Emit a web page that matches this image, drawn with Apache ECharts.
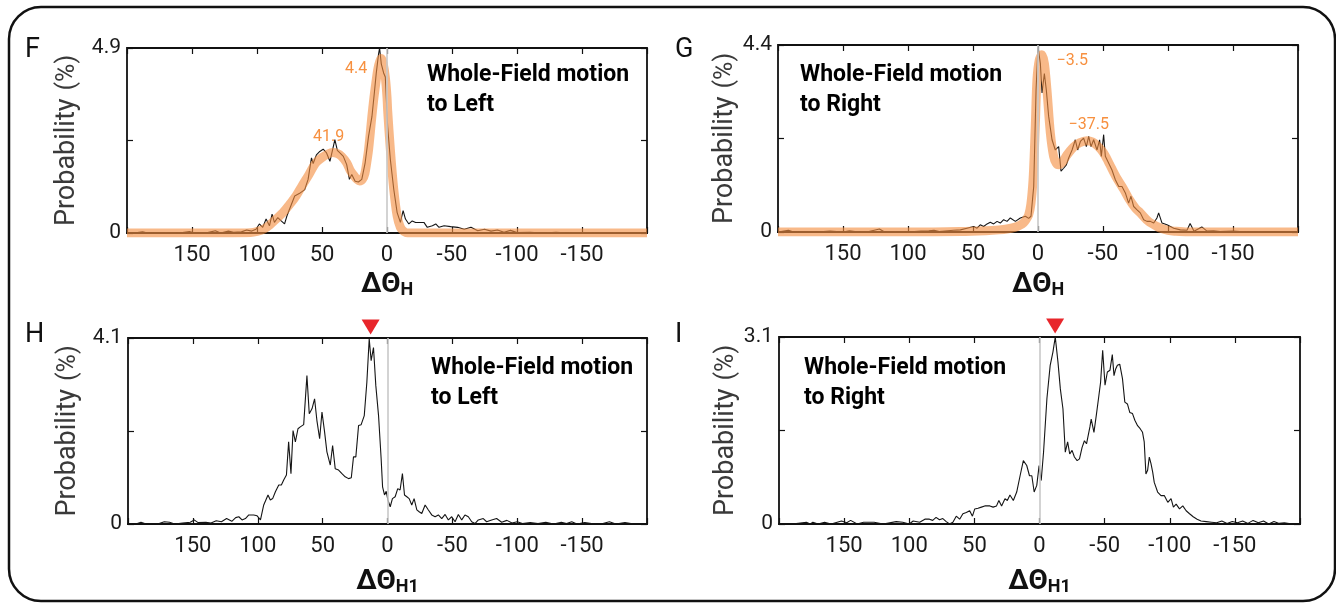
<!DOCTYPE html>
<html>
<head>
<meta charset="utf-8">
<title>Whole-Field motion — ΔΘ distributions</title>
<script src="https://cdn.jsdelivr.net/npm/echarts@6/dist/echarts.min.js"></script>
<style>
  html, body { margin: 0; padding: 0; background: #fff; }
  #main { width: 1336px; height: 605px; }
</style>
</head>
<body>
<div id="main"></div>
<script>
// ---- data: [ΔΘ (deg), probability (%)] ----
// F: whole-field motion to left, ΔΘH
const fRaw = [[200,0],[192,0.01],[188,0.03],[184,0],[170,0.01],[160,0],[152,0.04],[148,0],[138,0.01],[132,0.06],[128,0],[122,0.05],[118,0.02],[112,0.03],[108,0.08],[104,0.05],
  [100.8,0.10],[98.2,0.24],[95.6,0.15],[93,0.37],[90.4,0.19],[88.4,0.50],[86.6,0.28],[84,0.41],[81.4,0.32],[78.8,0.24],[77,0.45],[75,0.63],[71,0.98],[67.2,1.05],[63.3,1.15],[60.7,1.42],[58.1,1.99],[56.8,1.84],[54.3,2.07],[51.7,2.16],[49.1,2.22],[46.5,2.12],[43.9,1.90],[41.3,2.29],[40.1,2.47],[38.2,2.19],[36.2,2.12],[33.6,2.03],[31,1.81],[28.9,1.42],[27.1,1.55],[24.5,1.37],[22,1.35],[19.4,1.42],[16.8,1.86],[14.2,2.56],[11.6,3.08],[9.8,3.69],[8.3,4.22],[6.5,4.74],[5.7,4.9],[4.4,4.48],[2.6,4.24],[1.3,4.13],
  [-0.5,2.82],[-2.6,1.94],[-5.2,1.16],[-7.8,0.54],[-10.3,0.28],[-12.4,0.59],[-14.2,0.37],[-16.8,0.24],[-19.4,0.32],[-22,0.28],[-24.5,0.28],[-28.4,0.28],[-31,0.15],[-34.9,0.19],[-37.5,0.24],[-40,0.15],[-43.9,0.19],[-49,0.17],[-54.3,0.15],[-59.4,0.10],[-64.6,0.15],[-69.8,0.06],[-75,0.10],
  [-80,0.05],[-85,0.08],[-90,0.02],[-95,0.07],[-100,0.01],[-110,0.02],[-120,0],[-130,0.02],[-140,0],[-150,0.01],[-160,0],[-175,0.01],[-190,0],[-200,0]]
const fFit = [[200,0],[120,0],[105,0.01],[100,0.04],[95,0.1],[90,0.22],[85,0.38],[80,0.54],[75,0.75],[70,0.98],[65,1.27],[60,1.55],[55,1.85],[50,2.0],[45,2.1],[41.9,2.13],[38,2.1],[35,2.03],[31,1.86],[28,1.64],[25,1.5],[23,1.42],[21,1.38],[19,1.42],[17,1.58],[15,2.0],[14.2,2.2],[13,2.6],[11.6,3.1],[10,3.6],[8.3,4.05],[7,4.35],[5.5,4.55],[4.4,4.62],[3,4.5],[1.3,4.13],[0,3.6],[-0.5,3.25],[-2.6,2.2],[-5.2,1.15],[-7.8,0.45],[-10.3,0.15],[-13,0.04],[-16,0],[-200,0]]
const fPeaks = [[41.9, 2.13], [4.4, 4.62]]

// G: whole-field motion to right, ΔΘH
const gRaw = [[200,0],[192,0.04],[188,0],[176,0.01],[170,0],[160,0.02],[150,0],[145,0.03],[138,0],[130,0.01],[122,0.07],[118,0],[110,0.01],[100,0],[90,0.02],[84,0.03],[80,0.04],[76,0.01],
  [64.9,0.04],[59.7,0.05],[54.6,0.09],[49.5,0.13],[46.9,0.09],[44.4,0.17],[41.8,0.13],[39.2,0.19],[36.7,0.23],[34.1,0.19],[31.5,0.25],[29,0.21],[26.4,0.29],[23.8,0.25],[21.3,0.33],[17.4,0.25],[13.6,0.33],[9.7,0.37],[7.2,0.32],[5.4,0.37],[3.3,1.07],[1.5,3.34],[0,4.36],
  [-1.8,3.97],[-3.1,3.27],[-4.9,3.73],[-6.4,3.34],[-8.2,2.72],[-10.8,2.17],[-13.3,1.93],[-15.9,2.01],[-17.7,1.43],[-19.7,1.50],[-21.8,1.58],[-23.6,1.74],[-26.2,1.93],[-28.7,2.17],[-30.5,1.93],[-32.6,2.13],[-35.1,2.21],[-37.2,2.01],[-39,2.25],[-40.8,2.01],[-42.8,2.17],[-45.4,1.93],[-47.4,2.17],[-48.7,1.78],[-50.5,2.29],[-51.8,1.78],[-54.4,1.62],[-56.9,1.46],[-59.5,1.23],[-62.1,1.07],[-64.6,1.07],[-67.2,0.92],[-69.7,0.68],[-71.5,0.84],[-73.6,0.60],[-76.2,0.52],[-78.7,0.45],[-81.3,0.29],[-83.8,0.25],[-86.4,0.25],[-89,0.21],[-91.5,0.33],[-92.8,0.45],[-95.4,0.21],[-99.2,0.17],[-104.4,0.09],[-109.5,0.05],[-114.6,0.04],
  [-117,0.2],[-120,0.02],[-126,0.12],[-130,0.02],[-135,0.03],[-140,0.01],[-150,0.02],[-160,0],[-170,0.01],[-175,0],[-200,0]]
const gFit = [[200,0],[100,0],[60,0.01],[40,0.03],[30,0.05],[24,0.07],[18,0.11],[14,0.16],[11,0.22],[9,0.3],[7.2,0.4],[5.5,0.65],[3.8,1.23],[2.8,1.9],[2,2.56],[0.8,3.58],[-1,4.05],[-3,4.17],[-4.9,3.97],[-6.9,3.34],[-9.5,2.33],[-12,1.78],[-14,1.62],[-16,1.58],[-19,1.65],[-22,1.8],[-27.4,2.0],[-32,2.1],[-37.5,2.15],[-42,2.12],[-46,2.02],[-50,1.88],[-53,1.72],[-55,1.6],[-60,1.3],[-66,1.0],[-70,0.78],[-75,0.56],[-78.7,0.45],[-85,0.25],[-91.5,0.13],[-95,0.08],[-100,0.04],[-105,0.02],[-115,0],[-200,0]]
const gPeaks = [[-3.5, 4.17], [-37.5, 2.15]]

// H: whole-field motion to left, ΔΘH1
const hRaw = [[200,0],[194,0],[190,0.04],[186,0],[176,0.01],[172,0.05],[168,0.04],[164,0],[158,0.02],[152,0.04],[149,0.09],[146,0.03],[140,0.04],[136,0.02],[132,0.07],[128,0.05],[124,0.12],[120,0.06],[117,0.14],
  [114.6,0.16],[112.1,0.09],[109.5,0.12],[106.9,0.20],[103.1,0.20],[100.5,0.18],[97.9,0.09],[95.4,0.42],[92.1,0.64],[90.3,0.53],[88.5,0.56],[86.4,0.71],[83.8,0.86],[81.8,0.86],[80,0.97],[77.9,1.08],[76.2,1.81],[74.4,1.11],[72.8,2.06],[71,1.81],[69,2.10],[67.2,2.14],[64.6,2.19],[62.1,3.27],[60.3,2.43],[58.2,2.54],[56.2,2.76],[54.4,2.28],[52.3,1.88],[50.5,2.47],[48.5,2.03],[46.7,1.59],[44.1,1.30],[42.3,1.73],[40.3,1.22],[37.7,1.19],[35.1,1.11],[32.6,1.04],[30,1.00],[27.9,1.02],[26.2,1.48],[24.4,1.48],[22.3,2.17],[20.3,2.19],[17.9,2.39],[15.9,3.13],[14.1,4.08],[12.6,3.60],[10.8,3.89],[9,3.05],[6.9,2.39],[4.9,1.44],[3.8,0.82],[2.3,0.64],[1,0.72],
  [-0.3,0.53],[-2.1,0.38],[-3.8,0.56],[-5.9,0.60],[-7.9,0.78],[-9.7,0.75],[-11.5,1.11],[-13.1,0.64],[-14.9,0.60],[-16.7,0.56],[-18.7,0.42],[-20.5,0.56],[-22.6,0.31],[-24.4,0.27],[-26.4,0.23],[-29,0.42],[-31.5,0.31],[-34.1,0.20],[-36.7,0.16],[-39.2,0.20],[-41.8,0.12],[-44.4,0.21],[-46.9,0.09],[-49.5,0.16],[-52.1,0.05],[-54.6,0.21],[-57.2,0.09],[-59.7,0.20],[-62.3,0.16],[-64.9,0.05],[-67.4,0.01],[-70,0.09],[-73.8,0.12],[-76.4,0.05],[-80.3,0.09],[-84.1,0.12],
  [-88,0.04],[-92,0.08],[-96,0.02],[-100,0.05],[-104,0.01],[-110,0.03],[-116,0.01],[-122,0.04],[-128,0],[-134,0.04],[-138,0.01],[-142,0.05],[-146,0],[-152,0.03],[-160,0],[-166,0.01],[-171,0.05],[-176,0],[-183,0.03],[-190,0],[-200,0]]
const hMax = [13, 4.1]

// I: whole-field motion to right, ΔΘH1
const iRaw = [[200,0],[190,0],[179,0.03],[176,0],[174,0.03],[170,0],[165,0.03],[160,0],[152,0.05],[148,0.02],[145,0.06],[140,0],[135,0.03],[127,0.03],[120,0],[110,0.04],[105,0.03],[100,0],[97,0.05],[92,0.03],[88,0.08],
  [84.5,0.08],[82,0.06],[79.4,0.11],[76.8,0.07],[74.2,0.09],[71.6,0.04],[69.1,0],[66.5,0.03],[63.9,0.13],[61.3,0.08],[58.8,0.17],[56.2,0.19],[53.6,0.22],[51.5,0.13],[49.7,0.25],[47.2,0.26],[44.6,0.28],[42,0.30],[38.1,0.30],[35.6,0.28],[33,0.30],[31.2,0.39],[29.1,0.30],[26.5,0.42],[24.7,0.39],[22.7,0.48],[20.1,0.39],[17.5,0.53],[14.9,0.80],[12.4,1.05],[9.8,0.97],[7.7,0.80],[5.9,0.80],[4.1,0.53],[2.1,0.64],[0.3,0.97],
  [-1.3,0.72],[-3.1,1.19],[-5.7,2.08],[-8.2,2.63],[-10.3,2.85],[-12.1,3.10],[-14.2,2.68],[-16,2.24],[-18,1.91],[-19.8,1.19],[-21.6,1.36],[-23.2,1.16],[-25,1.22],[-26.8,1.11],[-28.9,1.05],[-30.7,1.08],[-32.7,1.27],[-34.5,1.38],[-36.1,1.33],[-38.7,1.61],[-39.7,1.74],[-41.8,1.52],[-43.6,1.80],[-45.6,2.13],[-46.9,2.35],[-48.5,2.88],[-50.3,2.30],[-52.1,2.52],[-54.1,2.55],[-55.9,2.81],[-57.2,2.46],[-58.5,2.57],[-59.8,2.63],[-61.6,2.65],[-63.7,2.41],[-65.5,2.02],[-67.5,1.99],[-69.3,1.85],[-71.4,1.83],[-73.2,1.72],[-75.3,1.63],[-77.3,1.58],[-79.1,1.52],[-80.4,1.36],[-81.7,0.83],[-83,0.89],[-84.3,1.11],[-85.6,1.0],[-86.9,0.86],[-88.1,0.69],[-90.7,0.53],[-93.3,0.47],[-95.9,0.47],[-98.5,0.36],[-101,0.42],[-102.8,0.28],[-104.9,0.33],[-107.5,0.25],[-110,0.30],[-112.6,0.22],[-115.2,0.17],
  [-118,0.12],[-121,0.08],[-124,0.05],[-128,0.04],[-132,0.03],[-136,0.02],[-140,0.05],[-144,0.01],[-148,0.04],[-152,0.02],[-156,0.05],[-160,0.01],[-164,0.06],[-168,0.02],[-172,0.05],[-176,0],[-180,0.04],[-184,0.01],[-188,0.02],[-194,0],[-200,0]]
const iMax = [-12, 3.1]

// y-axis tops of each panel (%)
const yTops = [4.9, 4.4, 4.1, 3.1]
const xTicks = [150, 100, 50, 0, -50, -100, -150]

const TXT = "Roboto, 'Noto Sans', sans-serif"
const NUM = "Roboto, 'Noto Sans', sans-serif"
const ORANGE = '#f7903f'

// 每个子图的位置
const layout = [
  { left: 127, top: 48, width: 520, height: 185, yGap: 46, xName: 'H', xGap: 22 },
  { left: 778, top: 45, width: 520, height: 187, yGap: 38, xName: 'H', xGap: 23 },
  { left: 128, top: 338, width: 519, height: 186, yGap: 46, xName: 'H1', xGap: 28 },
  { left: 779, top: 337, width: 521, height: 187, yGap: 38, xName: 'H1', xGap: 28 }
]

const chart = echarts.init(document.getElementById('main'))

const grids = []
const xAxes = []
const yAxes = []
layout.forEach((p, i) => {
  const top = yTops[i]
  grids.push({ left: p.left, top: p.top, width: p.width, height: p.height, show: true, borderColor: '#111', borderWidth: 1.8, backgroundColor: 'transparent' })
  const xBase = {
    type: 'value', gridIndex: i, min: -200, max: 200, interval: 50, inverse: true,
    splitLine: { show: false },
    axisTick: { inside: true, length: 6, lineStyle: { color: '#111', width: 1.2 } }
  }
  xAxes.push(Object.assign({}, xBase, {
    position: 'bottom',
    axisLine: { onZero: false, lineStyle: { color: '#111', width: 2.2 } },
    axisLabel: {
      margin: 11, fontSize: 22, color: '#1a1a1a', fontFamily: NUM,
      formatter: v => xTicks.indexOf(v) >= 0 ? String(v) : ''
    },
    name: '{a|ΔΘ}{s|' + p.xName + '}',
    nameLocation: 'middle', nameGap: p.xGap,
    nameTextStyle: {
      rich: {
        a: { fontSize: 28, fontWeight: 'bold', fontFamily: TXT, color: '#111', lineHeight: 30, verticalAlign: 'bottom' },
        s: { fontSize: 18, fontWeight: 'bold', fontFamily: TXT, color: '#111', lineHeight: 44, verticalAlign: 'bottom' }
      }
    }
  }))
  xAxes.push(Object.assign({}, xBase, {
    position: 'top', axisLine: { show: false, onZero: false }, axisLabel: { show: false }
  }))
  const yBase = {
    type: 'value', gridIndex: i, min: 0, max: top, interval: top / 2,
    splitLine: { show: false },
    axisLine: { show: false, onZero: false },
    axisTick: { inside: true, length: 6, lineStyle: { color: '#111', width: 1.2 } }
  }
  yAxes.push(Object.assign({}, yBase, {
    position: 'left',
    axisLabel: {
      margin: 6, fontSize: 21, color: '#1a1a1a', fontFamily: NUM,
      formatter: v => v === 0 ? '0' : (Math.abs(v - top) < 1e-9 ? top.toFixed(1) : '')
    },
    name: '{a|Probability}{b|(%)}',
    nameLocation: 'middle', nameRotate: 90, nameGap: p.yGap,
    nameTextStyle: {
      rich: {
        a: { fontSize: 27, fontFamily: TXT, color: '#3a3a3a' },
        b: { fontSize: 25, fontFamily: TXT, color: '#3a3a3a', padding: [0, 0, 0, 8] }
      }
    }
  }))
  yAxes.push(Object.assign({}, yBase, { position: 'right', axisLabel: { show: false } }))
})

// 黑色原始分布
function rawSeries(i, data, peak) {
  const s = {
    type: 'line', xAxisIndex: 2 * i, yAxisIndex: 2 * i, data: data,
    showSymbol: false, symbol: 'none', z: 3,
    lineStyle: { color: '#151515', width: 1.1 },
    markLine: {
      silent: true, symbol: ['none', 'none'], label: { show: false },
      lineStyle: { color: '#c8c8c8', width: 1.6, type: 'solid' },
      data: [{ xAxis: 0 }]
    }
  }
  if (peak) {
    s.markPoint = {
      silent: true,
      symbol: 'triangle', symbolRotate: 180, symbolSize: [18, 15], symbolOffset: [0, -11],
      itemStyle: { color: '#e8262b' }, label: { show: false },
      data: [{ coord: peak }]
    }
  }
  return s
}

// 橙色拟合曲线 + 峰值标注
function fitSeries(i, data, peaks, labels) {
  return {
    type: 'line', xAxisIndex: 2 * i, yAxisIndex: 2 * i, data: data,
    showSymbol: false, symbol: 'none', smooth: 0.3, z: 4,
    lineStyle: { color: 'rgba(244,142,64,0.62)', width: 9, cap: 'butt', join: 'round' },
    markPoint: {
      silent: true, symbol: 'circle', symbolSize: 0,
      data: peaks.map((c, k) => ({
        coord: c,
        label: Object.assign({
          show: true, formatter: labels[k].text, color: ORANGE, fontSize: 16, fontFamily: NUM
        }, labels[k].pos)
      }))
    }
  }
}

const series = [
  rawSeries(0, fRaw),
  fitSeries(0, fFit, fPeaks, [
    { text: '41.9', pos: { position: 'top', distance: 10, offset: [-4, 2] } },
    { text: '4.4', pos: { position: 'left', distance: 14, offset: [0, 10] } }
  ]),
  rawSeries(1, gRaw),
  fitSeries(1, gFit, gPeaks, [
    { text: '\u22123.5', pos: { position: 'right', distance: 14, offset: [0, 6] } },
    { text: '\u221237.5', pos: { position: 'top', distance: 10, offset: [2, 2] } }
  ]),
  rawSeries(2, hRaw, hMax),
  rawSeries(3, iRaw, iMax)
]

const panelText = (x, y, t) => ({
  type: 'text', left: x, top: y,
  style: { text: t, font: 'bold 23px ' + TXT, fill: '#000', lineHeight: 30 }
})
const letter = (x, y, t) => ({
  type: 'text', left: x, top: y,
  style: { text: t, font: '27px ' + TXT, fill: '#111' }
})

chart.setOption({
  animation: false,
  backgroundColor: '#fff',
  grid: grids,
  xAxis: xAxes,
  yAxis: yAxes,
  series: series,
  graphic: [
    { type: 'rect', shape: { x: 9, y: 7, width: 1326, height: 594, r: 32 }, style: { fill: 'none', stroke: '#111', lineWidth: 2.5 }, z: -1 },
    letter(25, 37, 'F'), letter(675, 37, 'G'), letter(25, 322, 'H'), letter(675, 322, 'I'),
    panelText(427, 60, 'Whole-Field motion\nto Left'),
    panelText(800, 60, 'Whole-Field motion\nto Right'),
    panelText(431, 353, 'Whole-Field motion\nto Left'),
    panelText(804, 353, 'Whole-Field motion\nto Right')
  ]
})
</script>
</body>
</html>
